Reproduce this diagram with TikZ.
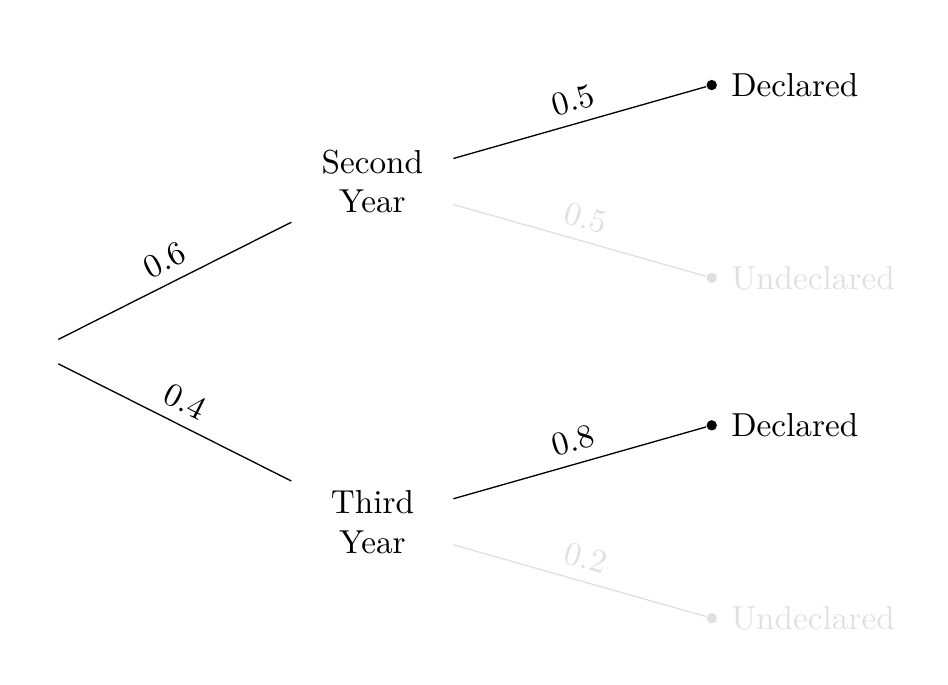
\documentclass[tikz,border=0pt]{standalone}
\usepackage{amssymb}
\usepackage{amsmath}
\usepackage{xcolor}
\usepackage{tikz}

\begin{document}
\begin{tikzpicture}[every node/.style={align=center},
    year/.style={minimum width=1.7cm, minimum height=0.9cm},
    leaf/.style={circle, fill, inner sep=1.1pt},
    faded/.style={black!12}]
    \useasboundingbox (-0.36,-3.52) rectangle (9.67,3.72);
    \node[minimum width=0.5cm, minimum height=0.5cm] (root) {};
    \node[year] (second) at (3.58,1.8) {Second\\Year};
    \node[year] (third) at (3.58,-1.8) {Third\\Year};
    \node[leaf, label={[label distance=0.6pt]right:Declared}] (sd) at (7.17,2.82) {};
    \node[leaf, faded, label={[faded, label distance=0.6pt]right:Undeclared}] (su) at (7.17,0.78) {};
    \node[leaf, label={[label distance=0.6pt]right:Declared}] (td) at (7.17,-0.78) {};
    \node[leaf, faded, label={[faded, label distance=0.6pt]right:Undeclared}] (tu) at (7.17,-2.82) {};
    \draw (root) -- node[sloped, above] {0.6} (second);
    \draw (root) -- node[sloped, above] {0.4} (third);
    \draw (second) -- node[sloped, above] {0.5} (sd);
    \draw[faded] (second) -- node[sloped, above] {0.5} (su);
    \draw (third) -- node[sloped, above] {0.8} (td);
    \draw[faded] (third) -- node[sloped, above] {0.2} (tu);
\end{tikzpicture}
\end{document}
